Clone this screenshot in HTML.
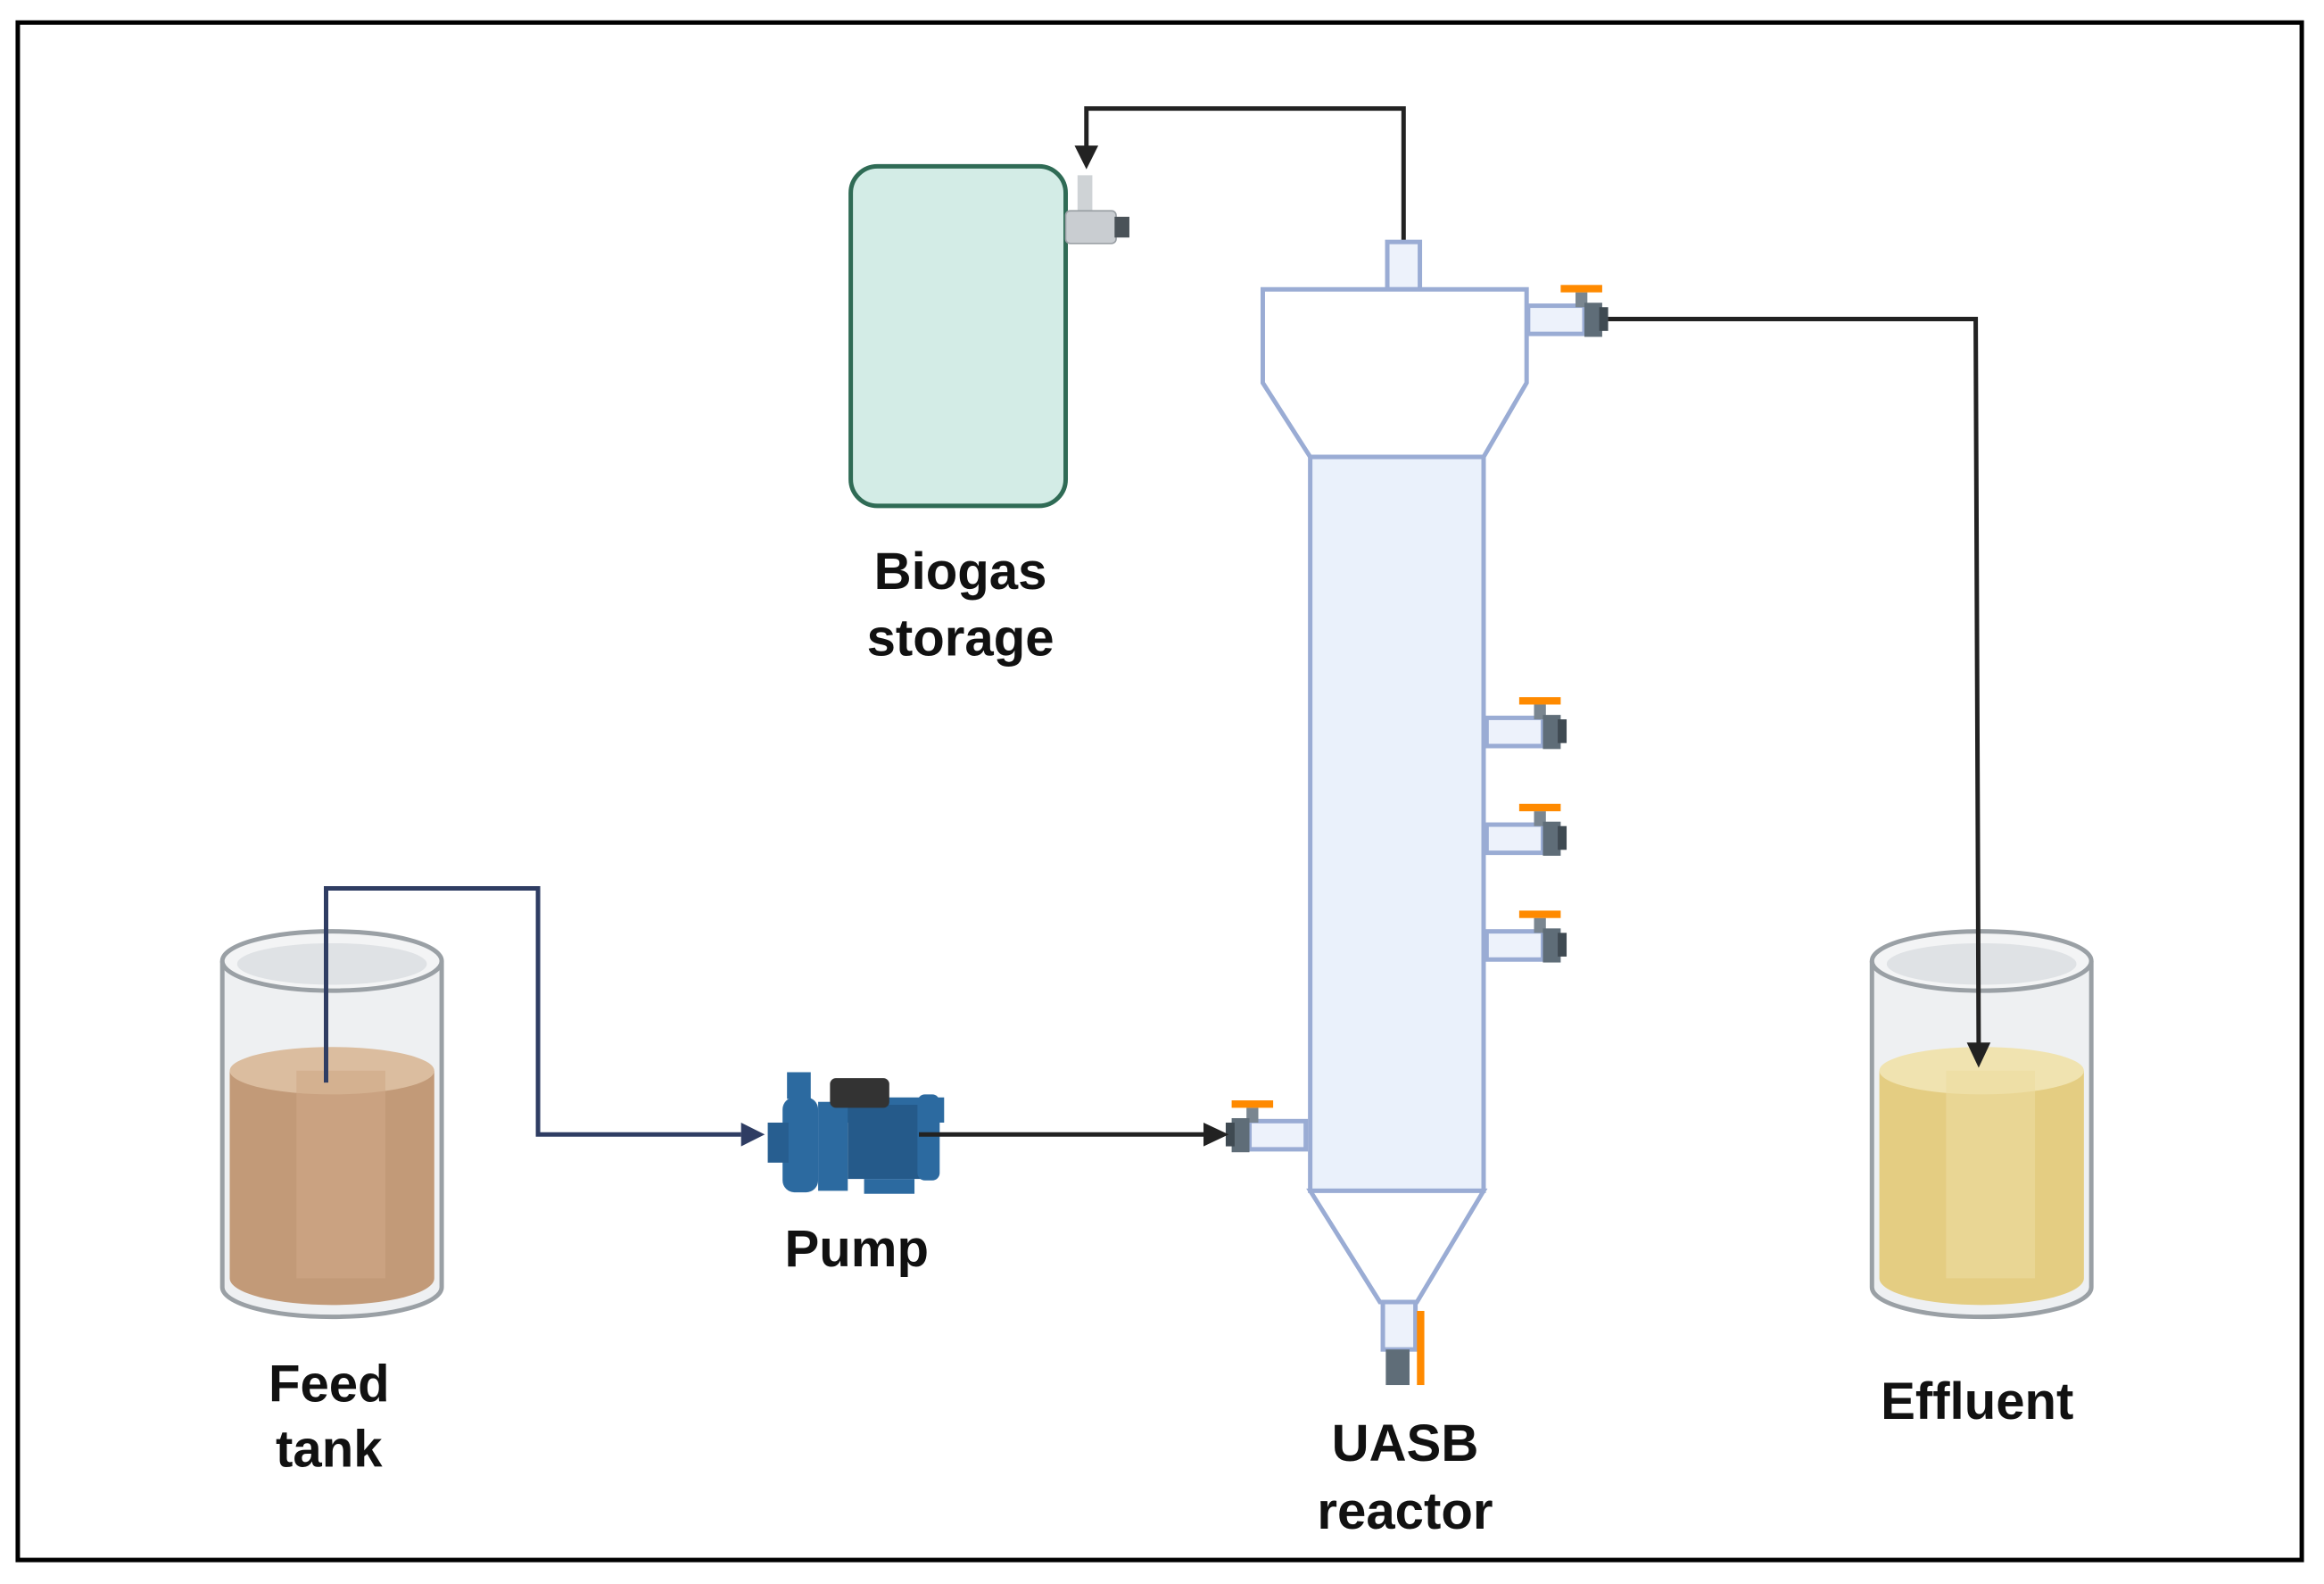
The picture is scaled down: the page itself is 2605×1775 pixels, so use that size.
<!DOCTYPE html>
<html><head><style>html,body{margin:0;padding:0;background:#fff}svg{display:block}</style></head><body>
<svg width="2605" height="1775" viewBox="0 0 1568 1068" xmlns="http://www.w3.org/2000/svg" font-family="Liberation Sans, sans-serif">
<defs>
<g id="valveH">
  <rect x="0" y="0" width="38" height="19" fill="#edf2fb" stroke="#9aacd4" stroke-width="3"/>
  <rect x="32" y="-9" width="8" height="10" fill="#7a8690"/>
  <rect x="22" y="-14" width="28" height="5" fill="#ff8a00"/>
  <rect x="38" y="-2" width="12" height="23" fill="#5f6d78"/>
  <rect x="48" y="1" width="6" height="16" fill="#3f4a52"/>
</g>
</defs>
<rect x="12" y="15" width="1541" height="1037" fill="#fff" stroke="#000" stroke-width="3"/>
<!-- biogas storage -->
<rect x="574" y="112" width="145" height="229" rx="18" fill="#d3ece6" stroke="#2f6b55" stroke-width="3"/>
<rect x="727" y="118" width="10" height="30" fill="#cfd3d6"/>
<rect x="719" y="142" width="34" height="22" rx="3" fill="#c9cdd1" stroke="#9aa0a5"/>
<rect x="752" y="146" width="10" height="14" fill="#4a5258"/>
<polyline points="947,163 947,73 733,73 733,100" fill="none" stroke="#222" stroke-width="3"/>
<polygon points="725,98 741,98 733,114" fill="#222"/>
<!-- reactor -->
<rect x="936" y="163" width="22" height="32" fill="#edf2fb" stroke="#9aacd4" stroke-width="3"/>
<polygon points="852,195 1030,195 1030,258 1001,308 884,308 852,258" fill="#fff" stroke="#9aacd4" stroke-width="3"/>
<rect x="884" y="308" width="117" height="495" fill="#eaf1fb" stroke="#9aacd4" stroke-width="3"/>
<polygon points="884,803 1001,803 956,878 931,878" fill="#fff" stroke="#9aacd4" stroke-width="3"/>
<rect x="933" y="878" width="22" height="32" fill="#edf2fb" stroke="#9aacd4" stroke-width="3"/>
<rect x="935" y="910" width="16" height="24" fill="#5f6d78"/>
<rect x="956" y="884" width="5" height="50" fill="#ff8a00"/>
<use href="#valveH" x="1031" y="206"/>
<use href="#valveH" x="1003" y="484"/>
<use href="#valveH" x="1003" y="556"/>
<use href="#valveH" x="1003" y="628"/>
<g transform="translate(881,756) scale(-1,1)"><use href="#valveH" x="0" y="0"/></g>
<!-- feed tank -->
<g>
  <path d="M150,648 L150,868 A74,20 0 0 0 298,868 L298,648" fill="#eef0f2" stroke="#9aa0a5" stroke-width="3"/>
  <path d="M155,722 L155,862 A69,18 0 0 0 293,862 L293,722 Z" fill="#c29a78"/>
  <ellipse cx="224" cy="722" rx="69" ry="16" fill="#dbbd9f"/>
  <rect x="200" y="722" width="60" height="140" fill="#cfa987" opacity="0.6"/>
  <ellipse cx="224" cy="648" rx="74" ry="20" fill="#f3f4f5" stroke="#9aa0a5" stroke-width="3"/>
  <ellipse cx="224" cy="650" rx="64" ry="14" fill="#dfe2e5"/>
</g>
<polyline points="220,730 220,599 363,599 363,765 500,765" fill="none" stroke="#2f3d63" stroke-width="3"/>
<polygon points="500,757 500,773 516,765" fill="#2f3d63"/>
<!-- effluent tank -->
<g>
  <path d="M1263,648 L1263,868 A74,20 0 0 0 1411,868 L1411,648" fill="#eef0f2" stroke="#9aa0a5" stroke-width="3"/>
  <path d="M1268,722 L1268,862 A69,18 0 0 0 1406,862 L1406,722 Z" fill="#e4cd82"/>
  <ellipse cx="1337" cy="722" rx="69" ry="16" fill="#f0e3b0"/>
  <rect x="1313" y="722" width="60" height="140" fill="#ecdca0" opacity="0.6"/>
  <ellipse cx="1337" cy="648" rx="74" ry="20" fill="#f3f4f5" stroke="#9aa0a5" stroke-width="3"/>
  <ellipse cx="1337" cy="650" rx="64" ry="14" fill="#dfe2e5"/>
</g>
<!-- effluent line -->
<polyline points="1085,215 1333,215 1335,705" fill="none" stroke="#222" stroke-width="3"/>
<polygon points="1327,703 1343,703 1335,720" fill="#222"/>
<!-- pump -->
<g>
  <rect x="531" y="723" width="16" height="18" fill="#2c6aa0"/>
  <rect x="528" y="740" width="24" height="64" rx="8" fill="#2c6aa0"/>
  <rect x="518" y="757" width="14" height="27" fill="#275e90"/>
  <rect x="552" y="743" width="20" height="60" fill="#2c6aa0"/>
  <rect x="567" y="740" width="70" height="17" fill="#2c6aa0"/>
  <rect x="572" y="745" width="52" height="50" fill="#255a8a"/>
  <rect x="560" y="727" width="40" height="20" rx="4" fill="#333"/>
  <rect x="619" y="738" width="15" height="58" rx="5" fill="#2c6aa0"/>
  <rect x="583" y="795" width="34" height="10" fill="#2c6aa0"/>
</g>
<line x1="620" y1="765" x2="815" y2="765" stroke="#222" stroke-width="3"/>
<polygon points="812,757 812,773 829,765" fill="#222"/>
<!-- labels -->
<g font-size="35" font-weight="bold" fill="#111" text-anchor="middle">
<text x="648" y="397">Biogas</text><text x="648" y="442">storage</text>
<text x="578" y="854">Pump</text>
<text x="222" y="945">Feed</text><text x="222" y="989">tank</text>
<text x="948" y="985">UASB</text><text x="948" y="1031">reactor</text>
<text x="1334" y="957">Effluent</text>
</g>
</svg>
</body></html>
